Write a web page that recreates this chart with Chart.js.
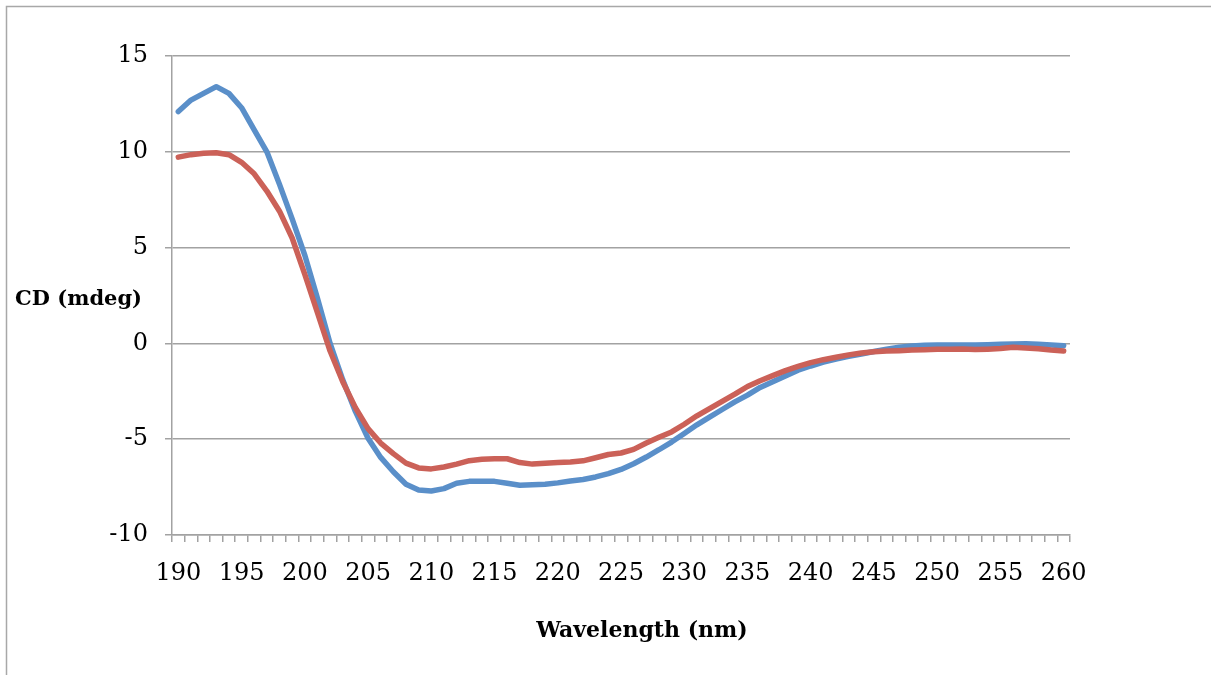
<!DOCTYPE html>
<html>
<head>
<meta charset="utf-8">
<title>CD spectrum</title>
<script src="https://cdn.jsdelivr.net/npm/chart.js@4.4.1/dist/chart.umd.min.js"></script>
<style>
  html, body { margin: 0; padding: 0; background: #ffffff; }
  #wrap { width: 1211px; height: 675px; }
</style>
</head>
<body>
<div id="wrap"><canvas id="cd" width="1211" height="675"></canvas></div>
<script>
// Wavelengths (nm), one point per nm
const wavelengths = [];
for (let nm = 190; nm <= 260; nm++) wavelengths.push(nm);

// Y axis ticks (mdeg)
const yTicks = [-10, -5, 0, 5, 10, 15];

// Sample A (blue trace), CD in mdeg, 190..260 nm
const seriesBlue = [
  12.1, 12.7, 13.05, 13.4, 13.05, 12.3, 11.15, 10.0, 8.3, 6.5,
  4.6, 2.35, 0.0, -1.9, -3.55, -4.95, -5.95, -6.7, -7.35, -7.65,
  -7.7, -7.58, -7.3, -7.2, -7.2, -7.2, -7.3, -7.4, -7.38, -7.35,
  -7.28, -7.18, -7.1, -6.97, -6.8, -6.58, -6.28, -5.93, -5.55, -5.15,
  -4.7, -4.25, -3.85, -3.45, -3.05, -2.7, -2.3, -2.0, -1.7, -1.4,
  -1.18, -0.98, -0.82, -0.68, -0.55, -0.42, -0.3, -0.2, -0.14, -0.1,
  -0.08, -0.08, -0.08, -0.08, -0.07, -0.05, -0.03, -0.02, -0.05, -0.08,
  -0.12
];

// Sample B (red trace), CD in mdeg, 190..260 nm
const seriesRed = [
  9.72, 9.85, 9.92, 9.95, 9.85, 9.45, 8.85, 7.95, 6.9, 5.5,
  3.6, 1.6, -0.4, -2.0, -3.35, -4.45, -5.2, -5.75, -6.25, -6.5,
  -6.55, -6.45, -6.3, -6.12, -6.05, -6.02, -6.02, -6.22, -6.3, -6.25,
  -6.22, -6.19, -6.13, -5.97, -5.8, -5.72, -5.53, -5.2, -4.9, -4.62,
  -4.22, -3.78, -3.4, -3.02, -2.65, -2.25, -1.95, -1.68, -1.42, -1.2,
  -1.0, -0.85, -0.72, -0.6, -0.5, -0.44, -0.4, -0.38, -0.35, -0.33,
  -0.3, -0.3, -0.29, -0.32, -0.3, -0.27, -0.2, -0.24, -0.28, -0.35,
  -0.4
];

const AXIS_GREY = '#a2a2a2';
const SERIF = '"DejaVu Serif", "Liberation Serif", serif';

// Page frame, white background and the two axis titles
const decorations = {
  id: 'decorations',
  beforeDraw(chart) {
    const ctx = chart.ctx;
    ctx.save();
    ctx.fillStyle = '#ffffff';
    ctx.fillRect(0, 0, chart.width, chart.height);
    ctx.strokeStyle = '#a8a8a8';
    ctx.lineWidth = 1.5;
    ctx.beginPath();
    ctx.moveTo(6.5, chart.height);
    ctx.lineTo(6.5, 6.5);
    ctx.lineTo(chart.width, 6.5);
    ctx.stroke();
    ctx.restore();
  },
  afterDraw(chart) {
    const ctx = chart.ctx;
    ctx.save();
    ctx.fillStyle = '#000000';
    ctx.textBaseline = 'alphabetic';
    ctx.font = 'bold 21px ' + SERIF;
    ctx.textAlign = 'left';
    ctx.fillText('CD (mdeg)', 15, 305);
    ctx.font = 'bold 22px ' + SERIF;
    ctx.textAlign = 'center';
    ctx.fillText('Wavelength (nm)', 642, 637);
    ctx.restore();
  }
};

new Chart(document.getElementById('cd'), {
  type: 'line',
  data: {
    labels: wavelengths,
    datasets: [
      {
        label: 'Sample A',
        data: seriesBlue,
        borderColor: '#5a8fc9',
        borderWidth: 5.5,
        pointRadius: 0,
        tension: 0,
        borderJoinStyle: 'round',
        borderCapStyle: 'round',
        fill: false,
        order: 2
      },
      {
        label: 'Sample B',
        data: seriesRed,
        borderColor: '#cb6158',
        borderWidth: 5.5,
        pointRadius: 0,
        tension: 0,
        borderJoinStyle: 'round',
        borderCapStyle: 'round',
        fill: false,
        order: 1
      }
    ]
  },
  options: {
    responsive: false,
    animation: false,
    events: [],
    layout: { padding: { top: 56, right: 141, bottom: 0, left: 0 } },
    plugins: {
      legend: { display: false },
      tooltip: { enabled: false },
      title: { display: false }
    },
    scales: {
      x: {
        type: 'category',
        offset: true,
        afterFit(scale) { scale.height = 140; },
        grid: {
          offset: true,
          drawOnChartArea: false,
          drawTicks: true,
          tickLength: 7,
          color: AXIS_GREY,
          lineWidth: 1.5
        },
        border: { display: true, color: AXIS_GREY, width: 1.5 },
        ticks: {
          autoSkip: false,
          maxRotation: 0,
          minRotation: 0,
          padding: 17,
          color: '#000000',
          font: { family: SERIF, size: 24 },
          callback(value) {
            const nm = wavelengths[value];
            return nm % 5 === 0 ? String(nm) : '';
          }
        }
      },
      y: {
        min: yTicks[0],
        max: yTicks[yTicks.length - 1],
        afterFit(scale) { scale.width = 172; },
        afterBuildTicks(scale) { scale.ticks = yTicks.map(v => ({ value: v })); },
        grid: {
          drawOnChartArea: true,
          drawTicks: true,
          tickLength: 7,
          color: AXIS_GREY,
          lineWidth: 1.5
        },
        border: { display: true, color: AXIS_GREY, width: 1.5 },
        ticks: {
          padding: 17,
          color: '#000000',
          font: { family: SERIF, size: 24 }
        }
      }
    }
  },
  plugins: [decorations]
});
</script>
</body>
</html>
